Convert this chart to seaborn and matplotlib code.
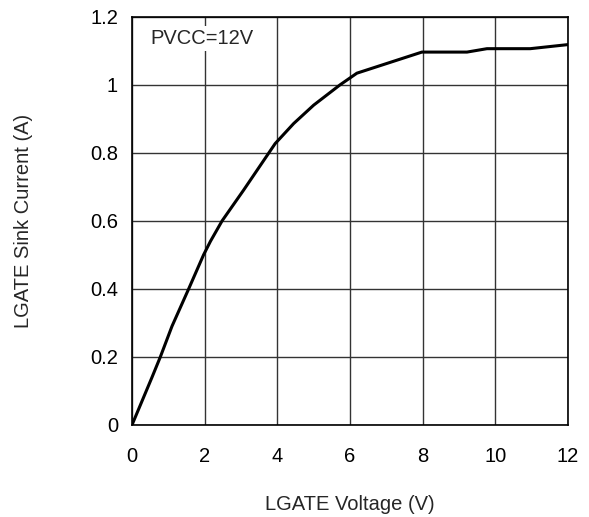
import matplotlib
matplotlib.use("Agg")
import matplotlib.pyplot as plt
import seaborn as sns
import pandas as pd

voltage = [0, 0.55, 0.78, 1.1, 1.56, 1.97, 2.16, 2.48, 3.07, 3.94, 4.45, 5.0, 5.73, 6.19, 7.2, 7.98, 9.22, 9.77, 10.96, 12]
current = [0, 0.14, 0.2, 0.29, 0.40, 0.50, 0.54, 0.60, 0.69, 0.827, 0.886, 0.94, 1.0, 1.034, 1.069, 1.096, 1.096, 1.106, 1.106, 1.118]
x_ticks = [0, 2, 4, 6, 8, 10, 12]
y_ticks = [0, 0.2, 0.4, 0.6, 0.8, 1.0, 1.2]
y_tick_labels = ["0", "0.2", "0.4", "0.6", "0.8", "1", "1.2"]

sns.set_style("white")
plt.rcParams['font.family'] = ['Liberation Sans', 'DejaVu Sans']

df = pd.DataFrame({"v": voltage, "i": current})

fs = 14.5
fig = plt.figure(figsize=(5.89, 5.17), dpi=100)
ax = fig.add_axes([0.2241, 0.178, 0.7402, 0.7897])
sns.lineplot(data=df, x="v", y="i", ax=ax, color="black", linewidth=2.2, zorder=3)

ax.set_xlim(0, 12)
ax.set_ylim(0, 1.2)
ax.set_xticks(x_ticks)
ax.set_xticklabels([str(t) for t in x_ticks])
ax.set_yticks(y_ticks)
ax.set_yticklabels(y_tick_labels)
ax.grid(True, color="#333333", linewidth=1.0)
for s in ax.spines.values():
    s.set_color("black")
    s.set_linewidth(1.2)
    s.set_visible(True)
ax.tick_params(direction="in", length=4, width=1, colors="black", labelsize=fs)
ax.tick_params(axis="x", pad=16)
ax.tick_params(axis="y", pad=10)
ax.set_xlabel("LGATE Voltage (V)", fontsize=fs, labelpad=21)
ax.set_ylabel("LGATE Sink Current (A)", fontsize=fs, labelpad=41)
ax.text(0.5, 1.135, "PVCC=12V", fontsize=fs, va="center", ha="left",
        bbox=dict(facecolor="white", edgecolor="none", pad=2), zorder=4)

fig.savefig("out.png", dpi=100)
